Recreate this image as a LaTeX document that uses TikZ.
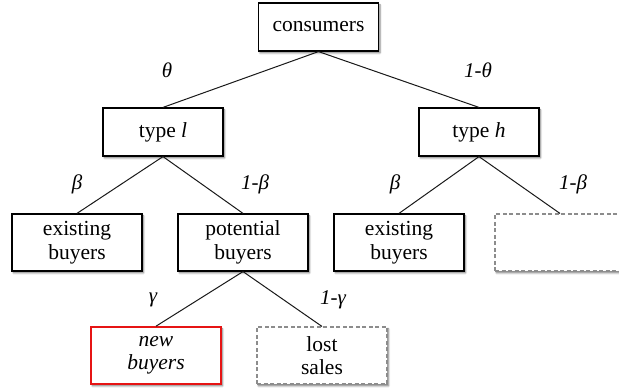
\documentclass[tikz,border=0pt]{standalone}
\usepackage{fontspec}
\setmainfont{Liberation Serif}
\usetikzlibrary{shadows.blur}
\definecolor{boxred}{RGB}{230,20,20}
\definecolor{dashgray}{RGB}{140,140,140}
\tikzset{
  base/.style={draw, fill=white, align=center, inner sep=0pt,
    font=\fontsize{21.5}{23.5}\selectfont,
    blur shadow={shadow xshift=1.5pt, shadow yshift=-2pt, shadow blur steps=5, shadow blur extra rounding=0pt, shadow opacity=50}},
  topbox/.style={base, line width=1.2pt, minimum width=120pt, minimum height=48pt},
  leafbox/.style={base, line width=1.2pt, minimum width=130pt, minimum height=57pt},
  redbox/.style={leafbox, draw=boxred, line width=1.6pt},
  ghostbox/.style={leafbox, draw=dashgray, line width=1.1pt, dash pattern=on 4pt off 2.5pt},
  edge/.style={line width=1pt, draw=black!90},
  prob/.style={font=\fontsize{21}{24}\selectfont\itshape, inner sep=0pt}
}
\begin{document}
\begin{tikzpicture}[x=1pt,y=1pt]
\useasboundingbox (0,0) rectangle (619,391);
\clip (0,0) rectangle (619,391);
% nodes (y = 391 - pixel row)
\node[topbox] (cons) at (318.5,364) {consumers};
\node[topbox] (tl) at (163,259) {type \textit{l}};
\node[topbox] (th) at (479,259) {type \textit{h}};
\node[leafbox] (eb1) at (77,148.5) {existing\\buyers};
\node[leafbox] (pb) at (243,148.5) {potential\\buyers};
\node[leafbox] (eb2) at (399,148.5) {existing\\buyers};
\node[ghostbox] (dh) at (560,148.5) {};
\node[redbox] (nb) at (156,35.5) {\textit{new}\\\textit{buyers}};
\node[ghostbox] (ls) at (322,35.5) {lost\\sales};
% connectors
\draw[edge] (cons.south) -- (tl.north);
\draw[edge] (cons.south) -- (th.north);
\draw[edge] (tl.south) -- (eb1.north);
\draw[edge] (tl.south) -- (pb.north);
\draw[edge] (th.south) -- (eb2.north);
\draw[edge] (th.south) -- (dh.north);
\draw[edge] (pb.south) -- (nb.north);
\draw[edge] (pb.south) -- (ls.north);
% probabilities
\node[prob] (p1) at (167,321) {θ};
\node[prob] (p2) at (478,321) {1-θ};
\node[prob] (p3) at (77,207) {β};
\node[prob] (p4) at (255,207) {1-β};
\node[prob] (p5) at (395,207) {β};
\node[prob] (p6) at (573,207) {1-β};
\node[prob] (p7) at (153,91) {γ};
\node[prob] (p8) at (333,91) {1-γ};
\end{tikzpicture}
\end{document}
